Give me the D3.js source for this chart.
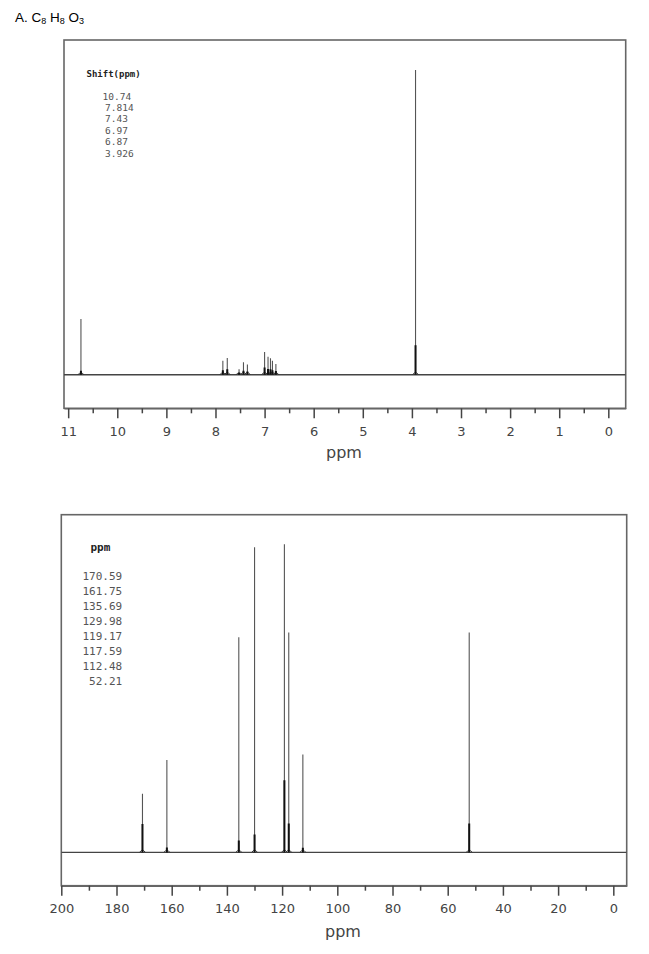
<!DOCTYPE html>
<html>
<head>
<meta charset="utf-8">
<script src="https://cdn.jsdelivr.net/npm/d3@7"></script>
<style>
  html, body { margin: 0; padding: 0; background: #fff; }
  svg { display: block; }
</style>
</head>
<body>
<script>
// ---------- DATA ----------
// 1H spectrum: line positions (ppm), relative heights, and thick lower part heights
const h1Shifts   = [10.74, 7.85, 7.76, 7.52, 7.43, 7.35, 7.00, 6.93, 6.88, 6.84, 6.77, 3.926];
const h1Heights  = [18.3, 4.6, 5.5, 1.8, 4.1, 3.4, 7.5, 5.9, 5.4, 4.6, 3.5, 100];
const h1Shoulder = [1.3, 1.5, 1.8, 0.6, 1.3, 1.1, 2.4, 1.9, 1.8, 1.5, 1.2, 9.7];
const h1Labels   = ["10.74", "7.814", "7.43", "6.97", "6.87", "3.926"];
const h1Ticks    = [11, 10, 9, 8, 7, 6, 5, 4, 3, 2, 1, 0];
const h1Minor    = [10.5, 9.5, 8.5, 7.5, 6.5, 5.5, 4.5, 3.5, 2.5, 1.5, 0.5];

// 13C spectrum
const c13Shifts   = [170.59, 161.75, 135.69, 129.98, 119.17, 117.59, 112.48, 52.21];
const c13Heights  = [19.0, 30.0, 69.8, 99.0, 100, 71.4, 31.8, 71.4];
const c13Shoulder = [9.2, 1.6, 3.9, 5.8, 23.4, 9.4, 1.5, 9.4];
const c13Labels   = ["170.59", "161.75", "135.69", "129.98", "119.17", "117.59", "112.48", "52.21"];
const c13Ticks    = [200, 180, 160, 140, 120, 100, 80, 60, 40, 20, 0];
const c13Minor    = [190, 170, 150, 130, 110, 90, 70, 50, 30, 10];

// ---------- DRAW ----------
const W = 649, H = 954;
const svg = d3.select("body").append("svg").attr("width", W).attr("height", H);

// Title with subscripts
const title = svg.append("text").attr("x", 15).attr("y", 21.5)
  .attr("font-family", "Liberation Sans, Arial, sans-serif").attr("font-size", 13.5).attr("fill", "#000");
[["A. C", 0, 13.5], ["8", 2, 9], [" H", -2, 13.5], ["8", 2, 9], [" O", -2, 13.5], ["3", 2, 9]]
  .forEach(([t, dy, fs]) => title.append("tspan").attr("dy", dy).attr("font-size", fs).text(t));

function panel(cfg) {
  const x = d3.scaleLinear().domain(cfg.xDomain).range([cfg.left, cfg.right]);
  const y = d3.scaleLinear().domain(cfg.yDomain).range([cfg.bottom, cfg.top]);
  const g = svg.append("g");
  const clipId = "clip" + cfg.id;
  svg.append("clipPath").attr("id", clipId).append("rect")
    .attr("x", cfg.left).attr("y", cfg.top).attr("width", cfg.right - cfg.left).attr("height", cfg.bottom - cfg.top);

  // frame
  g.append("rect").attr("x", cfg.left).attr("y", cfg.top)
    .attr("width", cfg.right - cfg.left).attr("height", cfg.bottom - cfg.top)
    .attr("fill", "none").attr("stroke", "#666").attr("stroke-width", 1.6);

  const plot = g.append("g").attr("clip-path", `url(#${clipId})`);
  const y0 = y(0);
  // baseline
  plot.append("line").attr("x1", cfg.left).attr("x2", cfg.right).attr("y1", y0).attr("y2", y0)
    .attr("stroke", "#444").attr("stroke-width", 1.3);

  const peaks = cfg.shifts.map((s, i) => ({ s, h: cfg.heights[i], sh: cfg.shoulder[i] }));
  // base bumps
  plot.selectAll("path.bump").data(peaks).join("path").attr("class", "bump")
    .attr("d", d => `M${x(d.s) - 3},${y0} L${x(d.s) - 1},${y0 - 2} L${x(d.s) + 1},${y0 - 2} L${x(d.s) + 3},${y0}`)
    .attr("fill", "none").attr("stroke", "#333").attr("stroke-width", 1);
  // thin peak lines
  plot.selectAll("line.pk").data(peaks).join("line").attr("class", "pk")
    .attr("x1", d => x(d.s)).attr("x2", d => x(d.s))
    .attr("y1", y0).attr("y2", d => y(d.h))
    .attr("stroke", "#555").attr("stroke-width", 1.1);
  // thick lower part
  plot.selectAll("line.sh").data(peaks).join("line").attr("class", "sh")
    .attr("x1", d => x(d.s)).attr("x2", d => x(d.s))
    .attr("y1", y0).attr("y2", d => y(d.sh))
    .attr("stroke", "#111").attr("stroke-width", 2);

  // axis: major and minor ticks
  const axG = g.append("g").attr("transform", `translate(0,${cfg.bottom})`);
  axG.call(d3.axisBottom(x).tickValues(cfg.ticks).tickSize(10).tickSizeOuter(0).tickPadding(8).tickFormat(d3.format("d")));
  const axM = g.append("g").attr("transform", `translate(0,${cfg.bottom})`);
  axM.call(d3.axisBottom(x).tickValues(cfg.minor).tickSize(5).tickSizeOuter(0).tickFormat(""));
  axM.select(".domain").remove();
  [axG, axM].forEach(a => {
    a.select(".domain").attr("stroke", "#666").attr("stroke-width", 1.6);
    a.selectAll(".tick line").attr("stroke", "#444").attr("stroke-width", 1.5);
  });
  axG.selectAll(".tick text").attr("font-family", "DejaVu Sans, sans-serif").attr("font-size", 13).attr("fill", "#444");

  // x axis label
  g.append("text").attr("x", cfg.labelX).attr("y", cfg.labelY).attr("text-anchor", "middle")
    .attr("font-family", "DejaVu Sans, sans-serif").attr("font-size", 16).attr("fill", "#444").text("ppm");

  // peak list
  g.append("text").attr("x", cfg.headX).attr("y", cfg.headY)
    .attr("font-family", "DejaVu Sans Mono, monospace").attr("font-weight", "bold")
    .attr("font-size", cfg.headSize).attr("fill", "#222").text(cfg.head);
  g.selectAll("text.lst").data(cfg.labels).join("text").attr("class", "lst")
    .attr("x", (d, i) => cfg.listX(d, i)).attr("y", (d, i) => cfg.listY + i * cfg.listStep)
    .attr("font-family", "DejaVu Sans Mono, monospace").attr("font-size", cfg.listSize)
    .attr("fill", "#555").style("white-space", "pre").text(d => cfg.pad(d));
}

panel({
  id: "h1", left: 64, right: 625.7, top: 40, bottom: 408.3,
  xDomain: [11.085, -0.354], yDomain: [-11.0, 109.8],
  shifts: h1Shifts, heights: h1Heights, shoulder: h1Shoulder,
  ticks: h1Ticks, minor: h1Minor, labelX: 344, labelY: 458,
  head: "Shift(ppm)", headX: 86.5, headY: 77, headSize: 9,
  labels: h1Labels, listX: (d) => d.length === 5 && d.indexOf(".") === 2 ? 102.5 : 105,
  listY: 99.5, listStep: 11.4, listSize: 9.5, pad: d => d
});

panel({
  id: "c13", left: 61.3, right: 626.7, top: 514.7, bottom: 885.7,
  xDomain: [200, -4.85], yDomain: [-10.8, 109.6],
  shifts: c13Shifts, heights: c13Heights, shoulder: c13Shoulder,
  ticks: c13Ticks, minor: c13Minor, labelX: 343, labelY: 937,
  head: "ppm", headX: 90.5, headY: 551, headSize: 11,
  labels: c13Labels, listX: () => 82.5,
  listY: 579.5, listStep: 15.05, listSize: 11, pad: d => d.padStart(6, " ")
});
</script>
</body>
</html>
